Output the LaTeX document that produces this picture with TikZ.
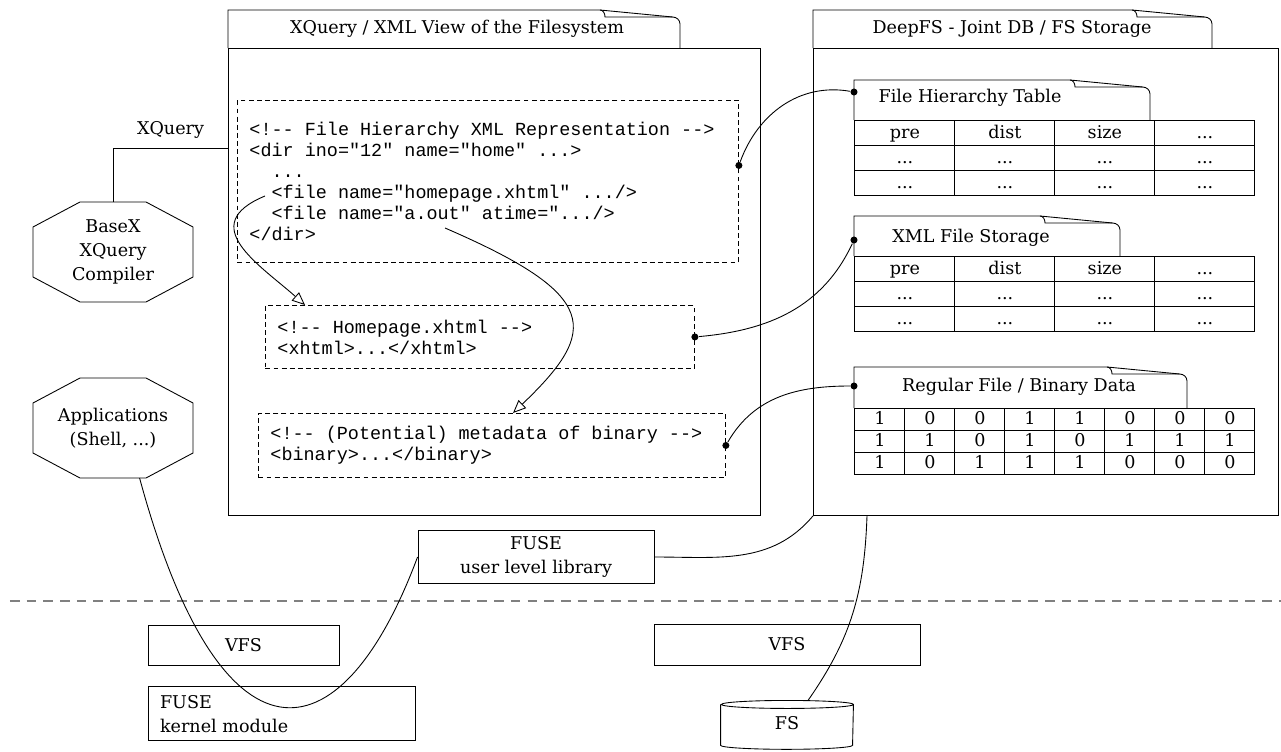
\documentclass[tikz,border=0pt]{standalone}
\usepackage{fontspec}
\setmainfont{DejaVu Serif}
\setmonofont{Liberation Mono}
\usetikzlibrary{positioning,matrix,arrows.meta}

% tab with folded corner: x, y of the lower left corner, width, height
\newcommand{\foldtab}[4]{%
  \draw (#1,#2) -- (#1,#2+#4) -- (#1+#3-1.6,#2+#4)
    -- (#1+#3-0.15,#2+#4-0.14) to[out=0,in=90] (#1+#3,#2+#4-0.28) -- (#1+#3,#2);
  \draw (#1+#3-1.6,#2+#4) to[out=0,in=90] (#1+#3-1.5,#2+#4-0.14) -- (#1+#3-0.15,#2+#4-0.14);
}
% octagon round a node
\newcommand{\octaframe}[1]{%
  \draw ([xshift=0.94cm]#1.north west) -- ([xshift=-0.94cm]#1.north east)
    -- ([yshift=-0.5cm]#1.north east) -- ([yshift=0.5cm]#1.south east)
    -- ([xshift=-0.94cm]#1.south east) -- ([xshift=0.94cm]#1.south west)
    -- ([yshift=0.5cm]#1.south west) -- ([yshift=-0.5cm]#1.north west) -- cycle;
}

\begin{document}
\begin{tikzpicture}[
  line width=0.5pt,
  font=\fontsize{10}{13.7}\selectfont,
  box/.style={rectangle, draw, align=center},
  code/.style={rectangle, draw, dash pattern=on 2.8pt off 1.8pt, anchor=north west,
               font=\fontsize{10.5}{11.95}\selectfont\ttfamily,
               align=flush left, inner xsep=0.24cm},
  octa/.style={rectangle, outer sep=0pt, minimum width=3.2cm, minimum height=2cm, align=center},
  celltable/.style={matrix of nodes, anchor=north west, inner sep=0pt,
                    column sep=-\pgflinewidth, row sep=-\pgflinewidth,
                    nodes={draw, minimum width=2cm, minimum height=0.5cm, inner sep=1pt,
                           text height=7.5pt, text depth=2pt}},
  bits/.style={nodes={minimum width=1cm, minimum height=0.44cm}},
  dot/.style={circle, fill, inner sep=0pt, minimum size=4pt},
  ref/.style={-{Triangle[open, length=2.6mm, width=2.2mm]}}
]
\useasboundingbox (0,0) rectangle (25.62,-15.04);

% XQuery / XML view
\node[box, anchor=north west, minimum width=10.64cm, minimum height=9.34cm] (view) at (4.56,-0.96) {};
\foldtab{4.56}{-0.96}{9.04}{0.76}
\node (viewtitle) at (9.14,-0.58) {XQuery / XML View of the Filesystem};

\node[code, text width=9.54cm, minimum height=3.24cm] (codeA) at (4.74,-2.0)
  {<!-- File Hierarchy XML Representation -->\\
   <dir ino="12" name="home" ...>\\
   \hspace*{1.2em}...\\
   \hspace*{1.2em}<file name="homepage.xhtml" .../>\\
   \hspace*{1.2em}<file name="a.out" atime=".../>\\
   </dir>};
\node[code, text width=8.1cm, minimum height=1.26cm] (codeB) at (5.3,-6.1)
  {<!-- Homepage.xhtml -->\\<xhtml>...</xhtml>};
\node[code, text width=8.86cm, minimum height=1.28cm] (codeC) at (5.16,-8.26)
  {<!-- (Potential) metadata of binary -->\\<binary>...</binary>};

% DeepFS storage
\node[box, anchor=north west, minimum width=9.3cm, minimum height=9.34cm] (deepfs) at (16.26,-0.96) {};
\foldtab{16.26}{-0.96}{7.98}{0.76}
\node (deeptitle) at (20.24,-0.58) {DeepFS - Joint DB / FS Storage};

\foldtab{17.08}{-2.4}{5.92}{0.8}
\node (fhtitle) at (19.4,-1.96) {File Hierarchy Table};
\matrix[celltable] (fhtable) at (17.08,-2.4) {
  pre & dist & size & ... \\
  ... & ... & ... & ... \\
  ... & ... & ... & ... \\
};

\foldtab{17.08}{-5.12}{5.32}{0.8}
\node (xmltitle) at (19.42,-4.76) {XML File Storage};
\matrix[celltable] (xmltable) at (17.08,-5.12) {
  pre & dist & size & ... \\
  ... & ... & ... & ... \\
  ... & ... & ... & ... \\
};

\foldtab{17.08}{-8.16}{6.66}{0.82}
\node (bintitle) at (20.38,-7.74) {Regular File / Binary Data};
\matrix[celltable, bits] (bintable) at (17.08,-8.16) {
  1 & 0 & 0 & 1 & 1 & 0 & 0 & 0 \\
  1 & 1 & 0 & 1 & 0 & 1 & 1 & 1 \\
  1 & 0 & 1 & 1 & 1 & 0 & 0 & 0 \\
};

% pins
\node[dot] (apin) at ([yshift=0.32cm]codeA.east) {};
\node[dot] (bpin) at (codeB.east) {};
\node[dot] (cpin) at (codeC.east) {};
\node[dot] (fhpin) at (17.08,-1.84) {};
\node[dot] (xmlpin) at (17.08,-4.8) {};
\node[dot] (binpin) at (17.08,-7.72) {};

\draw (apin) to[out=70,in=170] (fhpin);
\draw (bpin) to[out=5,in=245] (xmlpin);
\draw (cpin) to[out=60,in=180] (binpin);

\coordinate (homeref) at (5.3,-3.92);
\coordinate (aoutref) at (8.9,-4.56);
\draw[ref] (homeref) .. controls (3.9,-4.5) and (5.2,-5.3) .. ([xshift=0.8cm]codeB.north west);
\draw[ref] (aoutref) .. controls (12.0,-5.9) and (12.0,-6.6) .. ([xshift=5.1cm]codeC.north west);

% user space
\node[octa] (basex) at (2.26,-5.04) {BaseX\\XQuery\\Compiler};
\octaframe{basex}
\node[octa, below=1.52cm of basex] (apps) {Applications\\(Shell, ...)};
\octaframe{apps}
\coordinate (xqin) at (4.56,-2.96);
\draw (basex.north) |- node[pos=0.75, above, yshift=2pt] {XQuery} (xqin);

\node[box, minimum width=4.72cm, minimum height=1.04cm] (fuselib) at (10.72,-11.14) {FUSE\\user level library};

\draw[gray, dash pattern=on 5.5pt off 4pt, line width=0.7pt] (0.2,-12.02) -- (25.62,-12.02);

% kernel space
\node[box, minimum width=3.82cm, minimum height=0.8cm] (vfsleft) at (4.87,-12.9) {VFS};
\node[box, minimum width=5.32cm, minimum height=0.82cm] (vfsright) at (15.74,-12.89) {VFS};
\node[box, text width=4.86cm, inner xsep=0.24cm, minimum height=1.08cm, align=flush left,
      below=0.42cm of vfsleft.south west, anchor=north west] (fusekernel) {FUSE\\kernel module};
\node[minimum width=2.64cm, minimum height=0.88cm, inner sep=0pt, below=0.7cm of vfsright] (fs) {FS};
\draw ([yshift=-0.08cm]fs.north west) -- (fs.south west)
  arc[start angle=180, end angle=360, x radius=1.32cm, y radius=0.08cm]
  -- ([yshift=-0.08cm]fs.north east)
  arc[start angle=0, end angle=360, x radius=1.32cm, y radius=0.08cm];

\draw (apps.-62) .. controls (4.4,-15.5) and (6.8,-15.3) .. (fuselib.west);
\draw (fuselib.east) to[out=0,in=230] (deepfs.south west);
\draw ([xshift=1.08cm]deepfs.south west) to[out=-92,in=55] ([xshift=0.42cm]fs.north);
\end{tikzpicture}
\end{document}
